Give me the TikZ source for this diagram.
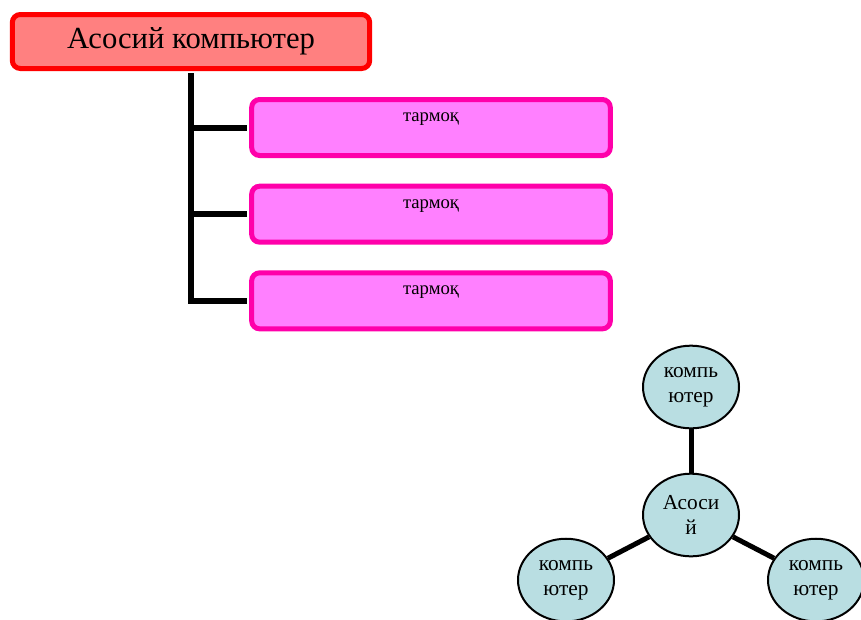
\documentclass[tikz,border=0pt]{standalone}
\usepackage{fontspec}
\setmainfont{Liberation Serif}
\usetikzlibrary{positioning,shapes.geometric}
\definecolor{rootfill}{RGB}{255,128,128}
\definecolor{netfill}{RGB}{255,128,255}
\definecolor{netline}{RGB}{255,0,170}
\definecolor{pcfill}{RGB}{185,222,226}
\begin{document}
\begin{tikzpicture}[x=0.75pt, y=-0.75pt, node distance=65pt,
    rootbox/.style={draw=red, fill=rootfill, line width=3.75pt, rounded corners=6pt,
        minimum width=268pt, inner sep=0pt, text height=25.5pt, text depth=15pt,
        font=\fontsize{23}{27}\selectfont},
    netbox/.style={draw=netline, fill=netfill, line width=3.75pt, rounded corners=6pt,
        minimum width=269pt, inner sep=0pt, text height=16.5pt, text depth=25.5pt,
        font=\fontsize{14}{17}\selectfont},
    pc/.style={ellipse, draw, fill=pcfill, line width=1.5pt, minimum width=72pt,
        minimum height=62pt, inner sep=0pt, align=center, font=\fontsize{16}{19}\selectfont},
    trunk/.style={line width=4.5pt, shorten <=1.8pt, shorten >=1.8pt},
    lnk/.style={line width=3.75pt}]
    \useasboundingbox (0,0) rectangle (861,619);
    \clip (0,0) rectangle (861,619);

    % tree
    \node[rootbox] (root) at (191,41.5) {Асосий компьютер};
    \node[netbox] (net1) at (431,127.5) {тармоқ};
    \node[netbox] (net2) [below of=net1] {тармоқ};
    \node[netbox] (net3) [below of=net2] {тармоқ};

    \draw[trunk] (root.south) |- (net1.west);
    \draw[trunk] (root.south) |- (net2.west);
    \draw[trunk] (root.south) |- (net3.west);

    % star
    \node[pc] (hub) at (691,515) {Асоси\\й};
    \node[pc] (pcA) at ([shift=(90:96pt)] hub) {компь\\ютер};
    \node[pc] (pcB) at ([shift=(207.5:105.7pt)] hub) {компь\\ютер};
    \node[pc] (pcC) at ([shift=(332.5:105.7pt)] hub) {компь\\ютер};

    \draw[lnk] (hub) -- (pcA);
    \draw[lnk] (hub) -- (pcB);
    \draw[lnk] (hub) -- (pcC);
\end{tikzpicture}
\end{document}
